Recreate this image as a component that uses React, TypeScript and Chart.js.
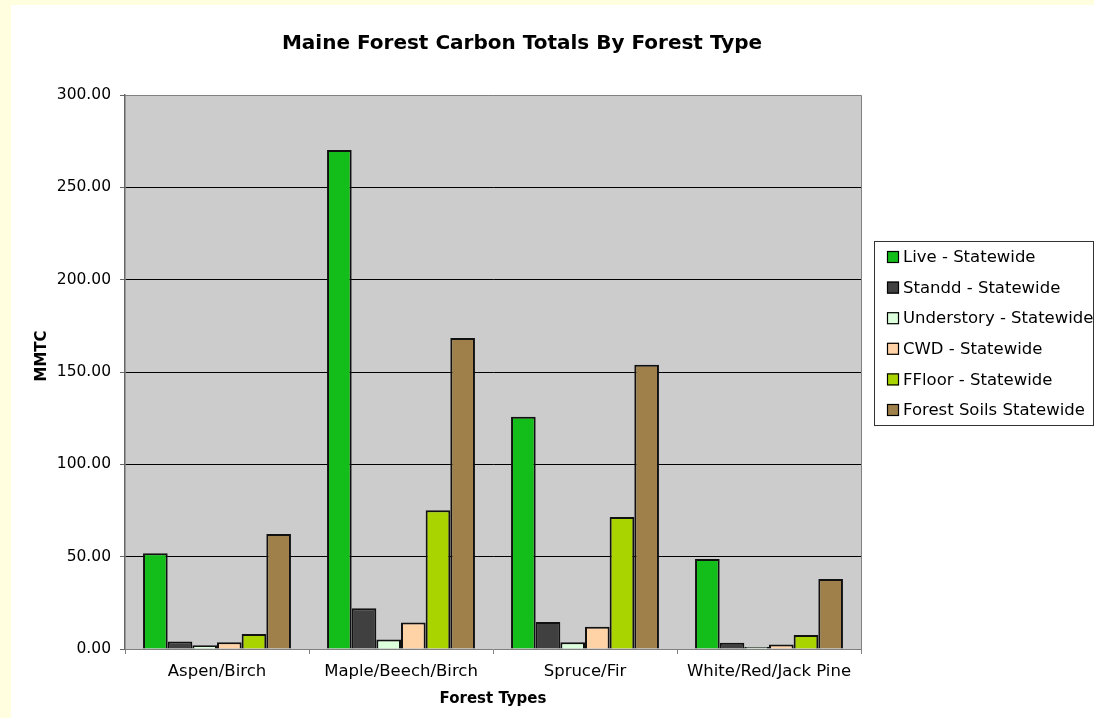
import React, { useEffect, useRef } from "react";
import { Chart, registerables } from "chart.js";

Chart.register(...registerables);

// Forest types along the category axis
const forestTypes = ["Aspen/Birch", "Maple/Beech/Birch", "Spruce/Fir", "White/Red/Jack Pine"];

// Carbon totals (MMTC) per pool, one value per forest type
const liveValues = [51.8, 270.2, 125.8, 48.7];
const standdValues = [4.0, 22.0, 14.6, 3.4];
const understoryValues = [2.0, 5.2, 3.6, 1.1];
const cwdValues = [3.6, 14.3, 12.1, 2.5];
const ffloorValues = [8.1, 75.2, 71.5, 7.6];
const soilsValues = [62.3, 168.4, 153.9, 37.9];

const seriesLabels = [
  "Live - Statewide",
  "Standd - Statewide",
  "Understory - Statewide",
  "CWD - Statewide",
  "FFloor - Statewide",
  "Forest Soils Statewide",
];
const seriesValues = [liveValues, standdValues, understoryValues, cwdValues, ffloorValues, soilsValues];
const seriesColors = ["#14BE1A", "#404040", "#DCFFDC", "#FFD3A6", "#AAD400", "#A0804A"];

const yMin = 0;
const yMax = 300;
const yStep = 50;

const chartTitle = "Maine Forest Carbon Totals By Forest Type";
const xTitle = "Forest Types";
const yTitle = "MMTC";

const FONT = '"DejaVu Sans", Verdana, sans-serif';

// Gray plot background and the frame around it
const plotFramePlugin = {
  id: "plotFrame",
  beforeDraw(chart: any) {
    const { ctx, chartArea: a } = chart;
    ctx.save();
    ctx.fillStyle = "#CCCCCC";
    ctx.fillRect(a.left, a.top, a.right - a.left, a.bottom - a.top);
    ctx.restore();
  },
  afterDraw(chart: any) {
    const { ctx, chartArea: a } = chart;
    ctx.save();
    ctx.strokeStyle = "#808080";
    ctx.lineWidth = 1;
    ctx.beginPath();
    ctx.moveTo(a.left, a.top + 0.5);
    ctx.lineTo(a.right + 0.5, a.top + 0.5);
    ctx.lineTo(a.right + 0.5, a.bottom);
    ctx.stroke();
    ctx.restore();
  },
};

// Chart title, axis titles and the boxed legend
const annotationsPlugin = {
  id: "annotations",
  afterDraw(chart: any) {
    const { ctx, chartArea: a } = chart;
    ctx.save();
    ctx.fillStyle = "#000";

    ctx.font = `bold 20px ${FONT}`;
    ctx.textAlign = "center";
    ctx.textBaseline = "alphabetic";
    ctx.fillText(chartTitle, 511, 44);

    ctx.font = `bold 15px ${FONT}`;
    ctx.fillText(xTitle, (a.left + a.right) / 2, 698);

    ctx.save();
    ctx.translate(35, 351);
    ctx.rotate(-Math.PI / 2);
    ctx.textBaseline = "alphabetic";
    ctx.fillText(yTitle, 0, 0);
    ctx.restore();

    // legend
    const lx = 863;
    const ly = 236;
    const lw = 219;
    const lh = 184;
    ctx.fillStyle = "#FFFFFF";
    ctx.fillRect(lx, ly, lw, lh);
    ctx.strokeStyle = "#333333";
    ctx.lineWidth = 1;
    ctx.strokeRect(lx + 0.5, ly + 0.5, lw, lh);

    ctx.font = `16.5px ${FONT}`;
    ctx.textAlign = "left";
    ctx.textBaseline = "middle";
    chart.data.datasets.forEach((ds: any, i: number) => {
      const cy = 252 + i * 30.6;
      ctx.fillStyle = ds.backgroundColor;
      ctx.fillRect(876, cy - 6, 12, 12);
      ctx.strokeStyle = "#000";
      ctx.lineWidth = 1.2;
      ctx.strokeRect(876.5, cy - 5.5, 11, 11);
      ctx.fillStyle = "#000";
      ctx.fillText(ds.label, 892, cy + 1);
    });
    ctx.restore();
  },
};

export default function App() {
  const canvasRef = useRef<HTMLCanvasElement | null>(null);

  useEffect(() => {
    document.body.style.margin = "0";
    document.body.style.background = "#FFFFE0";
    const canvas = canvasRef.current;
    if (!canvas) return;

    const chart = new Chart(canvas, {
      type: "bar",
      data: {
        labels: forestTypes,
        datasets: seriesLabels.map((label, i) => ({
          label,
          data: seriesValues[i],
          backgroundColor: seriesColors[i],
          borderColor: "#111111",
          borderWidth: 2,
          categoryPercentage: 0.804,
          barPercentage: 1,
        })),
      },
      options: {
        animation: false,
        responsive: false,
        devicePixelRatio: 1,
        layout: { padding: { top: 90, right: 233, left: 0, bottom: 0 } },
        plugins: {
          legend: { display: false },
          title: { display: false },
          tooltip: { enabled: false },
        },
        scales: {
          x: {
            afterFit: (scale: any) => {
              scale.height = 69;
            },
            grid: {
              offset: true,
              drawOnChartArea: false,
              drawTicks: true,
              tickLength: 5,
              tickColor: "#808080",
            },
            border: { display: true, color: "#808080", width: 1 },
            ticks: {
              color: "#000",
              font: { family: FONT, size: 16.5 },
              padding: 8,
              maxRotation: 0,
              autoSkip: false,
            },
          },
          y: {
            min: yMin,
            max: yMax,
            afterFit: (scale: any) => {
              scale.width = 114;
            },
            grid: {
              drawOnChartArea: true,
              drawTicks: true,
              tickLength: 5,
              tickColor: "#666666",
              color: (c: any) =>
                c.tick && (c.tick.value === yMax || c.tick.value === yMin) ? "rgba(0,0,0,0)" : "#000000",
              lineWidth: 1,
            },
            border: { display: true, color: "#666666", width: 1.5 },
            ticks: {
              stepSize: yStep,
              color: "#000",
              font: { family: FONT, size: 15.5 },
              padding: 9,
              callback: (v: any) => Number(v).toFixed(2),
            },
          },
        },
      },
      plugins: [plotFramePlugin, annotationsPlugin],
    });

    return () => chart.destroy();
  }, []);

  return (
    <div style={{ position: "relative", width: 1094, height: 718, overflow: "hidden" }}>
      <canvas
        ref={canvasRef}
        width={1083}
        height={713}
        style={{ position: "absolute", left: 11, top: 5, width: 1083, height: 713, background: "#FFFFFF", display: "block" }}
      />
    </div>
  );
}
